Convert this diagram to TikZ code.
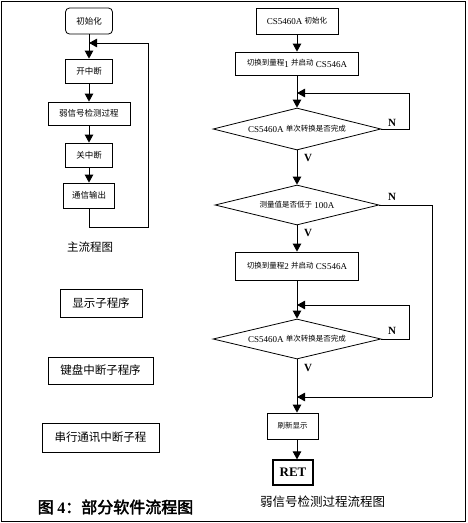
\documentclass[tikz,border=0pt]{standalone}
\usepackage{fontspec}
\setmainfont{Liberation Serif}
\newfontfamily\cjk{Noto Sans CJK SC}
\newfontfamily\cjkb[FakeBold=2.5]{Noto Sans CJK SC}
\usetikzlibrary{arrows.meta,shapes.geometric}
\newcommand{\zs}[1]{\raisebox{1.5pt}{\cjk\fontsize{7.5}{8}\selectfont #1}}
\newcommand{\lzh}{\cjk\fontsize{8.5}{9}\selectfont}
\newcommand{\bzh}{\cjk\fontsize{11.5}{12}\selectfont}
\begin{document}
\begin{tikzpicture}[x=1pt,y=-1pt,line width=0.9pt,
  box/.style={draw,inner sep=0pt,line width=0.8pt},
  dia/.style={draw,diamond,inner sep=0pt,line width=0.8pt},
  arr/.style={-{Triangle[width=8.5pt,length=8pt]}},
  lat/.style={font=\fontsize{9}{10}\selectfont},
  yn/.style={font=\bfseries\fontsize{11}{12}\selectfont,inner sep=0pt}]
\useasboundingbox (0,0) rectangle (468,523);
\draw[line width=1pt] (1.5,1.5) rectangle (465.5,521.5);
% left main flow
\node[box,rounded corners=4pt,minimum width=47pt,minimum height=26pt] (init) at (89,21) {\lzh 初始化};
\node[box,minimum width=47pt,minimum height=24pt] (kai) at (89,71) {\lzh 开中断};
\node[box,minimum width=82pt,minimum height=23pt] (ruo) at (89,113.5) {\lzh 弱信号检测过程};
\node[box,minimum width=47pt,minimum height=24pt] (guan) at (89,155) {\lzh 关中断};
\node[box,minimum width=51pt,minimum height=25pt] (tong) at (89,195.5) {\lzh 通信输出};
\coordinate (l1) at (89,227);
\coordinate (l2) at (148,227);
\coordinate (l3) at (148,43);
\coordinate (l4) at (89,43);
\draw[arr] (init) -- (kai);
\draw[arr] (kai) -- (ruo);
\draw[arr] (ruo) -- (guan);
\draw[arr] (guan) -- (tong);
\draw (tong) -- (l1) -- (l2) -- (l3);
\draw[arr] (l3) -- (l4);
\node (zlct) at (90,247) {\bzh 主流程图};
\node[box,minimum width=82pt,minimum height=28pt] (xs) at (101,303) {\bzh 显示子程序};
\node[box,minimum width=105pt,minimum height=27pt] (jp) at (100.5,370.5) {\bzh 键盘中断子程序};
\node[box,minimum width=117pt,minimum height=29pt] (cx) at (100.5,437.5) {\bzh 串行通讯中断子程};
\node (title) at (115.5,507) {\cjkb\fontsize{16}{16}\selectfont 图 {\rmfamily\bfseries 4}：部分软件流程图};
% right flow
\node[box,lat,minimum width=82pt,minimum height=26pt] (r1) at (297,21) {CS5460A \zs{初始化}};
\node[box,lat,minimum width=123pt,minimum height=23pt] (r2) at (297,63.5) {\zs{切换到量程}1 \zs{并启动} CS546A};
\node[dia,minimum width=168pt,minimum height=42pt,label={[lat]center:CS5460A \zs{单次转换是否完成}}] (d1) at (297,129) {};
\node[dia,minimum width=164pt,minimum height=40pt,label={[lat]center:\zs{测量值是否低于} 100A}] (d2) at (297,205) {};
\node[box,lat,minimum width=123pt,minimum height=28pt] (r3) at (297,266) {\zs{切换到量程}2 \zs{并启动} CS546A};
\node[dia,minimum width=168pt,minimum height=40pt,label={[lat]center:CS5460A \zs{单次转换是否完成}}] (d3) at (297,339) {};
\node[box,minimum width=51pt,minimum height=26pt] (sx) at (292.5,426) {\cjk\fontsize{7.5}{8}\selectfont 刷新显示};
\node[box,line width=1.2pt,minimum width=40pt,minimum height=25pt] (ret) at (293,472.5) {\bfseries\fontsize{13}{14}\selectfont RET};
\node (rlab) at (322.5,502) {\cjk\fontsize{12.5}{13}\selectfont 弱信号检测过程流程图};
\coordinate (a1) at (409,129);
\coordinate (a2) at (409,93);
\coordinate (a3) at (297,93);
\coordinate (b1) at (432,205);
\coordinate (b2) at (432,397);
\coordinate (b3) at (297,397);
\coordinate (c1) at (409,339);
\coordinate (c2) at (409,305);
\coordinate (c3) at (297,305);
\draw[arr] (r1) -- (r2);
\draw[arr] (r2) -- (d1);
\draw (d1.east) -- (a1) -- (a2);
\draw[arr] (a2) -- (a3);
\draw[arr] (d1) -- (d2);
\draw (d2.east) -- (b1) -- (b2);
\draw[arr] (b2) -- (b3);
\draw[arr] (d2) -- (r3);
\draw[arr] (r3) -- (d3);
\draw (d3.east) -- (c1) -- (c2);
\draw[arr] (c2) -- (c3);
\draw[arr] (d3.south) -- (sx.north -| d3.south);
\draw[arr] (sx.south -| d3.south) -- (ret.north -| d3.south);
\node[yn] (n1) at (392,123) {N};
\node[yn] (n2) at (392,197) {N};
\node[yn] (n3) at (392,331) {N};
\node[yn] (v1) at (308,158) {V};
\node[yn] (v2) at (308,233) {V};
\node[yn] (v3) at (308,368) {V};
\end{tikzpicture}
\end{document}
